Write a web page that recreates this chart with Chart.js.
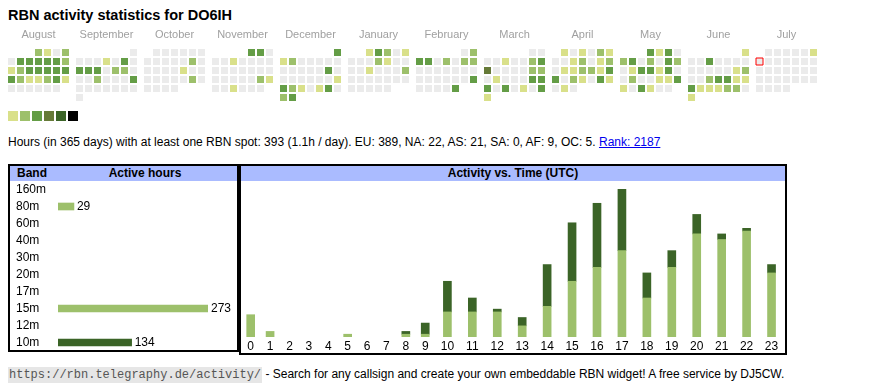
<!DOCTYPE html>
<html>
<head>
<meta charset="utf-8">
<title>RBN activity statistics for DO6IH</title>
<script src="https://cdn.jsdelivr.net/npm/chart.js@4.4.1/dist/chart.umd.min.js"></script>
<style>
body { margin:0; background:#fff; font-family:"Liberation Sans", Arial, sans-serif; color:#000; }
#title { position:absolute; left:8px; top:6px; font-size:14.5px; line-height:18px; font-weight:bold; }
#heat { position:absolute; left:7px; top:28px; }
#legend { position:absolute; left:8px; top:111px; height:10px; }
#legend span { position:absolute; top:0; width:10px; height:10px; }
#summary { position:absolute; left:8px; top:135px; font-size:12px; line-height:14px; white-space:nowrap; }
#summary a { color:#00e; }
.box { position:absolute; top:164px; border:2px solid #000; box-sizing:border-box; }
.head { position:relative; background:#aabbff; height:15px; line-height:15px; font-size:12px; font-weight:bold; }
.head span { position:absolute; top:0; }
#bandCanvas { position:absolute; left:16px; top:181px; }
#hourCanvas { position:absolute; left:241px; top:181px; }
#footer { position:absolute; left:8px; top:367px; font-size:12px; line-height:14px; white-space:nowrap; }
#footer code { font-family:"Liberation Mono", monospace; font-size:12px; color:#555; background:#e6e6e6; padding:1px 1px; }
</style>
</head>
<body>
<div id="title">RBN activity statistics for DO6IH</div>
<canvas id="heat" width="811" height="74"></canvas>
<div id="legend"></div>
<div id="summary">Hours (in 365 days) with at least one RBN spot: 393 (1.1h / day). EU: 389, NA: 22, AS: 21, SA: 0, AF: 9, OC: 5. <a href="#">Rank: 2187</a></div>

<div class="box" style="left:8px; width:231px; height:188px;">
  <div class="head"><span style="left:7px;">Band</span><span style="left:40px; width:190px; text-align:center;">Active hours</span></div>
</div>
<div class="box" style="left:239px; width:548px; height:191px;">
  <div class="head" style="text-align:center;">Activity vs. Time (UTC)</div>
</div>
<canvas id="bandCanvas" width="220" height="170"></canvas>
<canvas id="hourCanvas" width="543" height="171"></canvas>

<div id="footer"><code>https://rbn.telegraphy.de/activity/</code> - Search for any callsign and create your own embeddable RBN widget! A free service by DJ5CW.</div>

<script>
// calendar: Aug 2024 - Jul 2025, one level per day (0 = no spot)
var months = ['August', 'September', 'October', 'November', 'December', 'January', 'February', 'March', 'April', 'May', 'June', 'July'];
var startYear = 2024, startMonth = 7;
var today = '2025-07-07';

var aug = [2,1,0,2, 0,3,3,3,3,3,2, 1,2,3,3,3,3,3, 3,2,1,1,2,3,1, 0,0,0,0,0,0];
var sep = [0, 0,0,0,1,0,3,0, 3,3,3,0,2,2,0, 0,0,2,0,0,0,3, 0,0,0,0,0,0,0, 0];
var oct = [0,0,0,0,0,0, 0,0,0,0,0,2,0, 0,0,0,0,1,0,0, 0,0,0,0,0,2,0, 0,0,0,0];
var nov = [3,3,0, 0,0,1,0,0,0,0, 0,0,0,0,0,0,0, 0,0,0,0,0,2,1, 0,0,1,0,0,0];
var dec = [3, 1,2,0,0,0,0,0, 0,0,0,0,0,3,0, 0,0,0,0,0,0,1, 3,2,1,0,1,3,0, 2,3];
var jan = [1,3,2,0,1, 0,0,0,2,1,0,0, 0,0,1,0,0,0,2, 0,0,0,0,0,0,0, 0,0,0,0,0];
var feb = [0,2, 3,3,0,2,0,2,2, 0,0,0,0,0,0,0, 0,0,0,0,0,0,3, 0,0,0,0,3];
var mar = [0,0, 0,0,1,0,0,2,3, 4,0,0,0,0,2,2, 0,1,0,0,0,3,3, 3,0,3,0,1,0,3, 1];
var apr = [1,0,1,0,2,1, 0,0,1,2,0,1,2, 0,1,1,2,2,1,3, 3,0,2,1,0,3,1, 0,1,0];
var may = [3,1,3,0, 2,3,0,2,0,3,2, 0,1,3,3,1,3,0, 0,2,0,0,1,1,3, 1,0,3,1,0,0];
var jun = [1, 0,0,3,0,0,0,0, 0,0,0,0,0,1,2, 0,0,2,3,3,1,1, 3,1,1,1,2,2,0, 1];
var jul = [0,0,0,0,0,1, 0,0,0,0,0,0,0, 0,0,0,0,0,0,0, 0,0,0,0,0,0,0, 0,0,0,0];
var dayLevels = [aug, sep, oct, nov, dec, jan, feb, mar, apr, may, jun, jul];

var levelColors = ['#ebebeb', '#d9e08a', '#9dc06b', '#649d46', '#667a38', '#3b6427', '#000000'];

// activity per band
var bandLabels = ['160m', '80m', '60m', '40m', '30m', '20m', '17m', '15m', '12m', '10m'];
var bandHours = [0, 29, 0, 0, 0, 0, 0, 273, 0, 134];

// activity vs. time (UTC)
var hourLabels = ['0','1','2','3','4','5','6','7','8','9','10','11','12','13','14','15','16','17','18','19','20','21','22','23'];
var hourLight = [8,2,0,0,0,1,0,0,1,1,9,9,9,4,11,20,25,31,14,25,37,35,38,23];
var hourDark = [0,0,0,0,0,0,0,0,1,4,11,5,1,3,15,21,23,22,9,6,7,2,1,3];

var lightGreen = '#9dc06b';
var darkGreen = '#3b6427';
var fontFamily = '"Liberation Sans", Arial, sans-serif';

Chart.defaults.font.family = fontFamily;
Chart.defaults.font.size = 12;

$ = function(id){ return document.getElementById(id); };

// chart.js pads the chart area so edge labels fit, we don't want that here
function noPadding(s) {
    s.paddingLeft = 0;
    s.paddingRight = 0;
    s.paddingTop = 0;
    s.paddingBottom = 0;
}

function setHeatmap() {
    var blockGap = 5 / 9; // gap between month blocks, in cells
    var pts = [];
    dayLevels.forEach(function(levels, m){
        var y = startYear + Math.floor((startMonth + m) / 12);
        var mo = (startMonth + m) % 12;
        var first = (new Date(Date.UTC(y, mo, 1)).getUTCDay() + 6) % 7;
        levels.forEach(function(v, i){
            var date = y + '-' + String(mo + 1).padStart(2, '0') + '-' + String(i + 1).padStart(2, '0');
            pts.push({
                x: m * (7 + blockGap) + (first + i) % 7,
                y: Math.floor((first + i) / 7),
                v: v,
                today: date == today
            });
        });
    });

    new Chart($('heat'), {
        type: 'scatter',
        data: {
            datasets: [{
                data: pts,
                pointStyle: 'rect',
                pointRadius: 3.5 / Math.SQRT1_2,
                pointHoverRadius: 3.5 / Math.SQRT1_2,
                pointBackgroundColor: function(ctx){ return levelColors[ctx.raw.v]; },
                pointBorderColor: function(ctx){ return ctx.raw.today ? '#ff0000' : 'rgba(0,0,0,0)'; },
                pointBorderWidth: function(ctx){ return ctx.raw.today ? 1 : 0; }
            }]
        },
        options: {
            responsive: false,
            animation: false,
            events: [],
            layout: { padding: 0, autoPadding: false },
            plugins: { legend: { display: false }, tooltip: { enabled: false } },
            scales: {
                x: {
                    type: 'linear',
                    position: 'top',
                    offset: false,
                    min: -0.5,
                    max: (months.length - 1) * (7 + blockGap) + 6.5,
                    grid: { display: false, drawTicks: false },
                    border: { display: false },
                    afterBuildTicks: function(s){
                        s.ticks = months.map(function(n, m){ return { value: m * (7 + blockGap) + 3 }; });
                    },
                    afterFit: function(s){ s.height = 20; noPadding(s); },
                    ticks: {
                        autoSkip: false,
                        maxRotation: 0,
                        padding: 6,
                        color: '#a0a0a0',
                        font: { size: 11 },
                        callback: function(v, i){ return months[i]; }
                    }
                },
                y: { type: 'linear', min: -0.5, max: 5.5, reverse: true, display: false }
            }
        }
    });

    // colour scale under the calendar
    var legend = $('legend');
    levelColors.slice(1).forEach(function(c, i){
        var s = document.createElement('span');
        s.style.left = (i * 12) + 'px';
        s.style.background = c;
        legend.appendChild(s);
    });
}

function setBandChart() {
    var bandColor = { '80m': lightGreen, '15m': lightGreen, '10m': darkGreen };
    var valueLabels = {
        id: 'valueLabels',
        afterDatasetsDraw: function(chart){
            var ctx = chart.ctx;
            ctx.save();
            ctx.font = '12px ' + fontFamily;
            ctx.fillStyle = '#000';
            ctx.textBaseline = 'middle';
            chart.getDatasetMeta(0).data.forEach(function(bar, i){
                if (bandHours[i] > 0) ctx.fillText(bandHours[i], bar.x + 3, bar.y + 0.5);
            });
            ctx.restore();
        }
    };
    new Chart($('bandCanvas'), {
        type: 'bar',
        data: {
            labels: bandLabels,
            datasets: [{
                data: bandHours,
                // empty bars still leave a hairline, hide them
                backgroundColor: function(ctx){
                    if (!bandHours[ctx.dataIndex]) return 'rgba(0,0,0,0)';
                    return bandColor[bandLabels[ctx.dataIndex]] || lightGreen;
                },
                barThickness: 7
            }]
        },
        options: {
            indexAxis: 'y',
            responsive: false,
            animation: false,
            events: [],
            layout: { padding: { right: 28 } },
            plugins: { legend: { display: false }, tooltip: { enabled: false } },
            scales: {
                x: { display: false, min: 0, max: Math.max.apply(null, bandHours) },
                y: {
                    grid: { display: false, drawTicks: false },
                    border: { display: false },
                    afterFit: function(s){ s.width = 42; noPadding(s); },
                    ticks: { crossAlign: 'far', autoSkip: false, color: '#000', padding: 0 }
                }
            }
        },
        plugins: [valueLabels]
    });
}

function setHourChart() {
    // columns get wider with the label, like the html table they come from
    var hourX = [], total = 0;
    hourLabels.forEach(function(l){
        var w = l.length + 2.5;
        hourX.push(total + w / 2);
        total += w;
    });
    function series(values, color) {
        return {
            data: hourX.map(function(x, i){ return { x: x, y: values[i] }; }),
            backgroundColor: function(ctx){ return values[ctx.dataIndex] ? color : 'rgba(0,0,0,0)'; },
            barThickness: 8
        };
    }
    new Chart($('hourCanvas'), {
        type: 'bar',
        data: {
            datasets: [series(hourLight, lightGreen), series(hourDark, darkGreen)]
        },
        options: {
            responsive: false,
            animation: false,
            events: [],
            layout: { padding: 0, autoPadding: false },
            plugins: { legend: { display: false }, tooltip: { enabled: false } },
            scales: {
                x: {
                    type: 'linear',
                    stacked: true,
                    offset: false,
                    min: 0,
                    max: total,
                    grid: { display: false, drawTicks: false },
                    border: { display: false },
                    afterBuildTicks: function(s){
                        s.ticks = hourX.map(function(v){ return { value: v }; });
                    },
                    afterFit: function(s){ s.height = 15; noPadding(s); },
                    ticks: {
                        autoSkip: false,
                        maxRotation: 0,
                        padding: 2,
                        color: '#000',
                        callback: function(v, i){ return hourLabels[i]; }
                    }
                },
                y: { stacked: true, min: 0, max: 56, display: false }
            }
        }
    });
}

setHeatmap();
setBandChart();
setHourChart();
</script>
</body>
</html>
